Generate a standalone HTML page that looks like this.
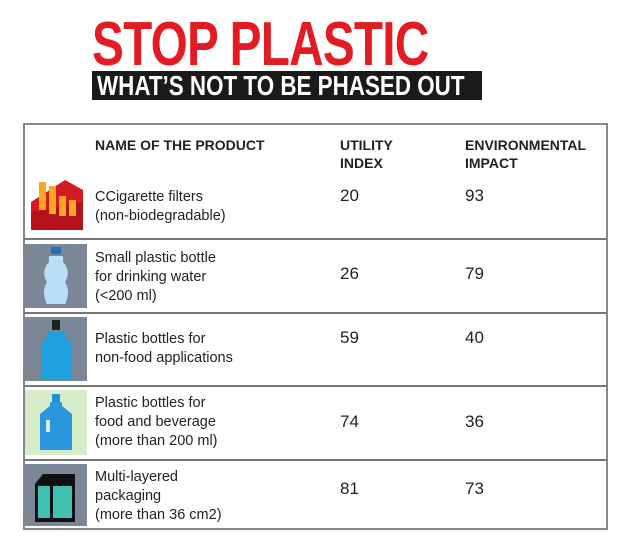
<!DOCTYPE html>
<html><head><meta charset="utf-8"><style>
body{margin:0;width:638px;height:544px;background:#fff;position:relative;overflow:hidden;font-family:"Liberation Sans",sans-serif;color:#222}
.a{position:absolute}
.t{font-size:14.5px;line-height:19px;color:#222}
.h{font-size:14px;font-weight:bold;line-height:18px;color:#222}
.v{font-size:17px;color:#222}
.sep{position:absolute;left:24px;width:582px;height:2px;background:#777}
</style></head><body>
<div class="a" style="left:92px;top:14px;font-size:62px;font-weight:bold;color:#e31b23;line-height:62px;transform:scaleX(0.77);transform-origin:left top;letter-spacing:-1px;white-space:nowrap">STOP PLASTIC</div>
<div class="a" style="left:92px;top:71px;width:390px;height:29px;background:#1a1a1a"></div>
<div class="a" style="left:97px;top:71px;font-size:28px;font-weight:bold;color:#fff;line-height:29px;transform:scaleX(0.8);transform-origin:left top;white-space:nowrap">WHAT’S NOT TO BE PHASED OUT</div>
<div class="a" style="left:23px;top:123px;width:581px;height:403px;border:2px solid #888"></div>
<div class="a h" style="left:95px;top:136px">NAME OF THE PRODUCT</div>
<div class="a h" style="left:340px;top:136px">UTILITY<br>INDEX</div>
<div class="a h" style="left:465px;top:136px">ENVIRONMENTAL<br>IMPACT</div>

<svg class="a" style="left:25px;top:172px" width="62" height="62"><polygon points="6,30 40,8 58,18 58,58 6,58" fill="#d71920"/><polygon points="6,40 58,30 58,58 6,58" fill="#b5121b"/><g fill="#f7a823"><rect x="14" y="10" width="7" height="28"/><rect x="24" y="14" width="7" height="28"/><rect x="34" y="24" width="7" height="20"/><rect x="44" y="28" width="7" height="16"/></g></svg>
<div class="a t" style="left:95px;top:188px">CCigarette filters<br>(non-biodegradable)</div>
<div class="a v" style="left:340px;top:186px">20</div>
<div class="a v" style="left:465px;top:186px">93</div>
<div class="sep" style="top:238px"></div>

<svg class="a" style="left:25px;top:244px" width="62" height="64"><rect width="62" height="64" fill="#7a8796"/><rect x="26" y="3" width="10" height="7" fill="#1f6fb8"/><path d="M24,12h14v6c6,6 6,14 2,20c4,6 4,14 0,22h-18c-4,-8 -4,-16 0,-22c-4,-6 -4,-14 2,-20z" fill="#b8e0f5"/></svg>
<div class="a t" style="left:95px;top:249px">Small plastic bottle<br>for drinking water<br>(&lt;200 ml)</div>
<div class="a v" style="left:340px;top:264px">26</div>
<div class="a v" style="left:465px;top:264px">79</div>
<div class="sep" style="top:312px"></div>

<svg class="a" style="left:25px;top:317px" width="62" height="64"><rect width="62" height="64" fill="#7a8796"/><rect x="27" y="3" width="8" height="10" fill="#222"/><path d="M22,14h18v6l6,6v36h-30v-36l6,-6z" fill="#1fa3e0"/></svg>
<div class="a t" style="left:95px;top:330px">Plastic bottles for<br>non-food applications</div>
<div class="a v" style="left:340px;top:328px">59</div>
<div class="a v" style="left:465px;top:328px">40</div>
<div class="sep" style="top:385px"></div>

<svg class="a" style="left:25px;top:390px" width="62" height="65"><rect width="62" height="65" fill="#d6ebc8"/><rect x="27" y="4" width="8" height="8" fill="#1f8fd6"/><path d="M25,12h12v4l10,8v36h-32v-36l10,-8z" fill="#2a96db"/><rect x="21" y="30" width="4" height="12" fill="#d6ebc8"/></svg>
<div class="a t" style="left:95px;top:394px">Plastic bottles for<br>food and beverage<br>(more than 200 ml)</div>
<div class="a v" style="left:340px;top:412px">74</div>
<div class="a v" style="left:465px;top:412px">36</div>
<div class="sep" style="top:459px"></div>

<svg class="a" style="left:25px;top:464px" width="62" height="62"><rect width="62" height="62" fill="#7a8796"/><path d="M10,20l8,-10h32v10v38h-40z" fill="#111"/><rect x="13" y="22" width="12" height="32" fill="#3fbfb0"/><rect x="28" y="22" width="19" height="32" fill="#3fbfb0"/></svg>
<div class="a t" style="left:95px;top:468px">Multi-layered<br>packaging<br>(more than 36 cm2)</div>
<div class="a v" style="left:340px;top:479px">81</div>
<div class="a v" style="left:465px;top:479px">73</div>
</body></html>
